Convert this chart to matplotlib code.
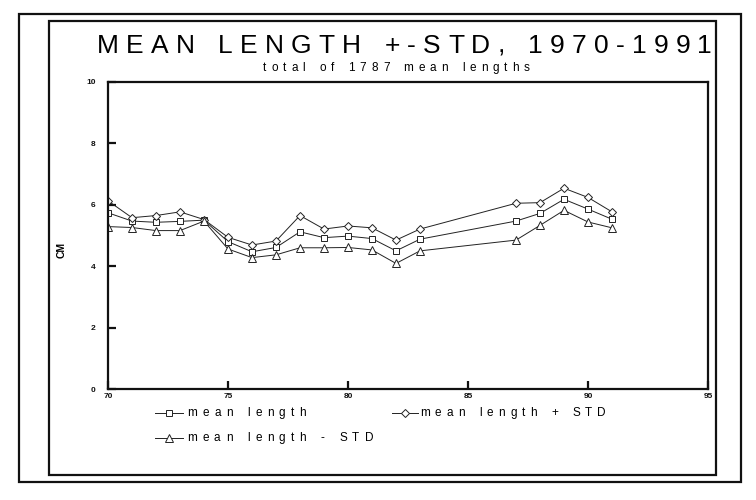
import matplotlib
matplotlib.use("Agg")
import matplotlib.pyplot as plt
from matplotlib.lines import Line2D
from matplotlib.patches import Rectangle
from matplotlib.font_manager import FontProperties

W, H = 756, 500
FAMILY = ["Liberation Sans Narrow", "Liberation Sans", "DejaVu Sans"]

# data (year 19xx)
years = [70, 71, 72, 73, 74, 75, 76, 77, 78, 79, 80, 81, 82, 83, 87, 88, 89, 90, 91]
mean_len = [5.74, 5.47, 5.43, 5.46, 5.50, 4.80, 4.47, 4.61, 5.12, 4.93, 4.98, 4.90,
            4.50, 4.88, 5.47, 5.72, 6.18, 5.86, 5.53]
plus_std = [6.13, 5.58, 5.65, 5.77, 5.52, 4.94, 4.69, 4.82, 5.65, 5.21, 5.31, 5.25,
            4.85, 5.21, 6.05, 6.07, 6.54, 6.24, 5.77]
minus_std = [5.29, 5.26, 5.16, 5.16, 5.47, 4.56, 4.28, 4.37, 4.60, 4.60, 4.61, 4.53,
             4.09, 4.50, 4.85, 5.33, 5.82, 5.44, 5.25]

x_ticks = [70, 75, 80, 85, 90, 95]
y_ticks = [0, 2, 4, 6, 8, 10]

title = "MEAN LENGTH +-STD, 1970-1991"
subtitle = "total of 1787 mean lengths"
labels = ["mean length", "mean length + STD", "mean length - STD"]

fig = plt.figure(figsize=(W / 100, H / 100), dpi=100)
fig.patch.set_facecolor("white")


def fx(x):
    return x / W


def fy(y):
    return 1 - y / H


def spaced(s, x0, x1, y, size, weight="normal"):
    # letter-spaced text, stretched between pixel x0 and x1, baseline at y
    fp = FontProperties(family=FAMILY, size=size, weight=weight)
    r = fig.canvas.get_renderer()
    sp = 0.35 * size * 100 / 72
    ws = [sp if c == " " else r.get_text_width_height_descent(c, fp, ismath=False)[0]
          for c in s]
    gap = (x1 - x0 - sum(ws)) / (len(s) - 1)
    x = x0
    for c, w in zip(s, ws):
        if c != " ":
            fig.text(fx(x), fy(y), c, fontproperties=fp, ha="left", va="baseline")
        x += w + gap


# frames
fig.add_artist(Rectangle((fx(19), fy(482)), (741 - 19) / W, (482 - 14) / H,
                         fill=False, lw=1.6, ec="#111111", transform=fig.transFigure))
fig.add_artist(Rectangle((fx(49), fy(475)), (716 - 49) / W, (475 - 21) / H,
                         fill=False, lw=1.6, ec="#111111", transform=fig.transFigure))

ax = fig.add_axes([fx(108), fy(389), 600 / W, 307 / H])
ax.plot(years, mean_len, color="#222222", lw=0.7, marker="s", ms=5,
        mfc="white", mec="#222222", mew=0.7)
ax.plot(years, plus_std, color="#222222", lw=0.7, marker="D", ms=4.5,
        mfc="white", mec="#222222", mew=0.7)
ax.plot(years, minus_std, color="#222222", lw=0.7, marker="^", ms=5.5,
        mfc="white", mec="#222222", mew=0.7)

ax.set_xlim(70, 95)
ax.set_ylim(0, 10)
ax.set_xticks(x_ticks)
ax.set_yticks(y_ticks)
for s in ax.spines.values():
    s.set_linewidth(1.6)
    s.set_color("#111111")
ax.tick_params(direction="in", length=6, width=1.6, labelsize=6, colors="#111111")
ax.tick_params(axis="y", pad=9)
ax.tick_params(axis="x", pad=3)
for lab in ax.get_xticklabels() + ax.get_yticklabels():
    lab.set_fontweight("bold")
    lab.set_family(FAMILY)

fig.text(fx(62), fy(250), "CM", rotation=90, fontsize=7.5, fontweight="bold",
         ha="center", va="center", family=FAMILY)

spaced(title, 97, 712, 53, 19)
spaced(subtitle, 263, 530, 71, 8.5)

# legend, drawn by hand below the axes
entries = [
    (labels[0], "s", 5, 155, 183, 416, 187, 306),
    (labels[1], "D", 4.5, 392, 418, 416, 420, 606),
    (labels[2], "^", 5.5, 155, 183, 441, 187, 373),
]
for text, mk, ms, l0, l1, yy, t0, t1 in entries:
    fig.add_artist(Line2D([fx(l0), fx((l0 + l1) / 2), fx(l1)], [fy(yy - 3)] * 3,
                          transform=fig.transFigure, color="#222222", lw=0.7,
                          marker=mk, ms=ms, markevery=[1], mfc="white",
                          mec="#222222", mew=0.7))
    spaced(text, t0, t1, yy, 8.5)

fig.savefig("out.png", dpi=100)
